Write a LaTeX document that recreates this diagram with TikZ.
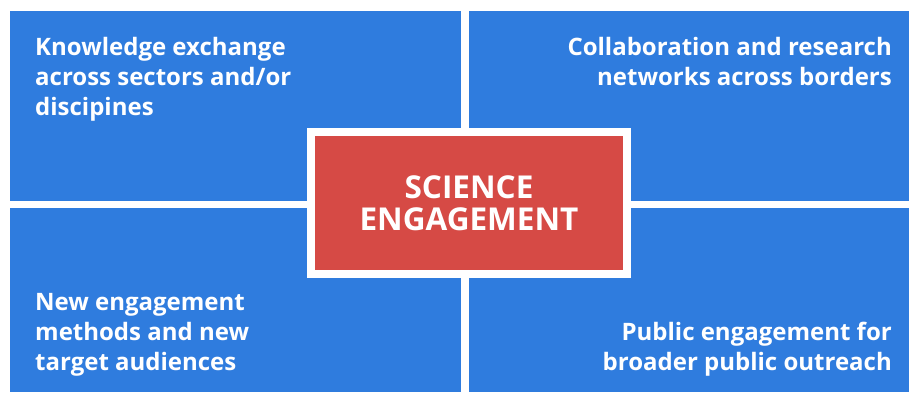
\documentclass[tikz,border=0pt]{standalone}
\usepackage{fontspec}
\setmainfont{Open Sans}
\usetikzlibrary{positioning}

\definecolor{quadblue}{RGB}{47,124,222}
\definecolor{corered}{RGB}{214,74,69}

\begin{document}
\begin{tikzpicture}[x=1pt, y=-1pt,
  quad/.style={fill=quadblue, draw=none},
  quadtext/.style={text=white, inner sep=0pt, font=\bfseries\fontsize{24}{30}\selectfont},
  core/.style={fill=corered, draw=white, line width=8pt, minimum width=316pt,
    minimum height=142pt, text=white, align=center,
    font=\bfseries\fontsize{31.5}{32}\selectfont}]

  \useasboundingbox (0,0) rectangle (909,392);

  % Quadrants
  \fill [quad] (10,11) rectangle (461,201); % top left
  \fill [quad] (469,11) rectangle (909,201); % top right
  \fill [quad] (10,208) rectangle (461,392); % bottom left
  \fill [quad] (469,208) rectangle (909,392); % bottom right

  % Quadrant texts (base = last line)
  \node [quadtext, anchor=base west, align=left] (tl) at (35,115)
    {Knowledge exchange\\across sectors and/or\\discipines};
  \node [quadtext, anchor=base east, align=right] (tr) at (892,85)
    {Collaboration and research\\networks across borders};
  \node [quadtext, anchor=base west, align=left] (bl) at (35,370)
    {New engagement\\methods and new\\target audiences};
  \node [quadtext, anchor=base east, align=right] (br) at (892,370)
    {Public engagement for\\broader public outreach};

  % Centre box
  \node [core] (sci) at (469,203) {SCIENCE\\ENGAGEMENT};
\end{tikzpicture}
\end{document}
